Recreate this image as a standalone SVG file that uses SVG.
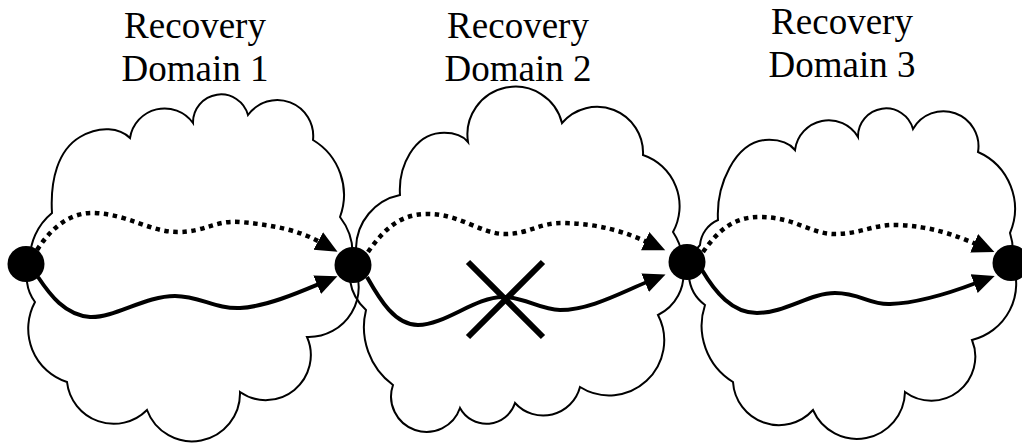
<svg xmlns="http://www.w3.org/2000/svg" width="1022" height="446" viewBox="0 0 1022 446">
<style>
.cloud{fill:none;stroke:#000;stroke-width:2}
.lbl{font-family:"Liberation Serif","Times New Roman",serif;font-size:37px;fill:#000;text-anchor:middle}
.dot{fill:none;stroke:#000;stroke-width:4.5;stroke-dasharray:4.5 4.5}
.sol{fill:none;stroke:#000;stroke-width:4}
.node{fill:#000}
</style>
<defs>
<marker id="ah" markerUnits="userSpaceOnUse" markerWidth="24" markerHeight="24" refX="2" refY="10" orient="auto" viewBox="0 0 24 20">
<path d="M0,0 L22,10 L0,20 z" fill="#000"/>
</marker>
</defs>
<rect width="1022" height="446" fill="#fff"/>
<g id="domain1">
<path class="cloud" d="M30,262 A60,60 0 0 1 52,213 C50,180 58,150 80,137 C100,125 120,128 130,138 A35,35 0 0 1 193,123 A28,28 0 0 1 248,115 A36,36 0 0 1 313,140 A64,64 0 0 1 340,217 A60,60 0 0 1 352,262 A50,50 0 0 1 307,337 A45,45 0 0 1 240,392 A48,48 0 0 1 147,410 A47,47 0 0 1 67,382 A56,56 0 0 1 35,302 A40,40 0 0 1 30,262 Z"/>
<text class="lbl" x="195" y="38">Recovery</text>
<text class="lbl" x="195" y="81">Domain 1</text>
</g>
<g id="domain2">
<path class="cloud" d="M356,248 A55,55 0 0 1 400,195 C398,165 415,135 440,133 C455,132 463,136 468,142 A48,48 0 0 1 562,123 A46,46 0 0 1 643,155 A54,54 0 0 1 673,232 A60,60 0 0 1 683,268 A45,45 0 0 1 658,315 A55,55 0 0 1 580,387 A38,38 0 0 1 515,403 A30,30 0 0 1 460,408 A35,35 0 0 1 393,385 A72,72 0 0 1 366,310 A50,50 0 0 1 356,248 Z"/>
<text class="lbl" x="518" y="38">Recovery</text>
<text class="lbl" x="518" y="81">Domain 2</text>
</g>
<g id="domain3">
<path class="cloud" d="M700,245 A30,30 0 0 1 718,220 C716,185 735,143 765,140 C780,139 790,144 795,150 A34,34 0 0 1 858,137 A28,28 0 0 1 913,129 A35,35 0 0 1 978,152 A62,62 0 0 1 1010,233 A60,60 0 0 1 1012,262 A58,58 0 0 1 972,340 A44,44 0 0 1 905,392 A48,48 0 0 1 813,410 A46,46 0 0 1 733,382 A66,66 0 0 1 705,305 A40,40 0 0 1 700,245 Z"/>
<text class="lbl" x="842" y="34">Recovery</text>
<text class="lbl" x="842" y="77">Domain 3</text>
</g>
<g id="connectors">
<path class="dot" marker-end="url(#ah)" d="M37,250 C55,222 75,212 95,213 C130,215 150,232 178,232 C205,232 215,220 240,222 C275,225 300,231 320,242"/>
<path class="sol" marker-end="url(#ah)" d="M38,277 C50,295 65,315 90,317 C115,318 145,296 175,296 C200,296 215,309 240,308 C265,307 300,292 319,284"/>
<path class="dot" marker-end="url(#ah)" d="M368,252 C385,228 400,215 425,214 C460,213 480,234 505,234 C530,234 540,222 565,223 C600,224 625,232 647,242"/>
<path class="sol" marker-end="url(#ah)" d="M367,277 C380,300 395,325 418,325 C445,325 475,297 503,297 C525,297 540,310 560,310 C590,310 620,293 647,282"/>
<path class="dot" marker-end="url(#ah)" d="M703,252 C720,228 735,217 760,217 C795,217 810,234 835,234 C860,234 875,224 897,225 C930,226 955,235 976,244"/>
<path class="sol" marker-end="url(#ah)" d="M702,270 C715,292 732,313 757,313 C785,313 810,293 835,293 C860,293 870,305 890,304 C920,303 955,291 976,283"/>
</g>
<g id="failure">
<path d="M468,262 L543,337 M543,262 L468,337" stroke="#000" stroke-width="6" fill="none"/>
</g>
<g id="node1"><ellipse class="node" cx="26" cy="264" rx="18.5" ry="18"/></g>
<g id="node2"><ellipse class="node" cx="353" cy="265" rx="18.5" ry="18"/></g>
<g id="node3"><ellipse class="node" cx="687" cy="262" rx="18.5" ry="18"/></g>
<g id="node4"><ellipse class="node" cx="1011" cy="263" rx="18.5" ry="18"/></g>
</svg>
